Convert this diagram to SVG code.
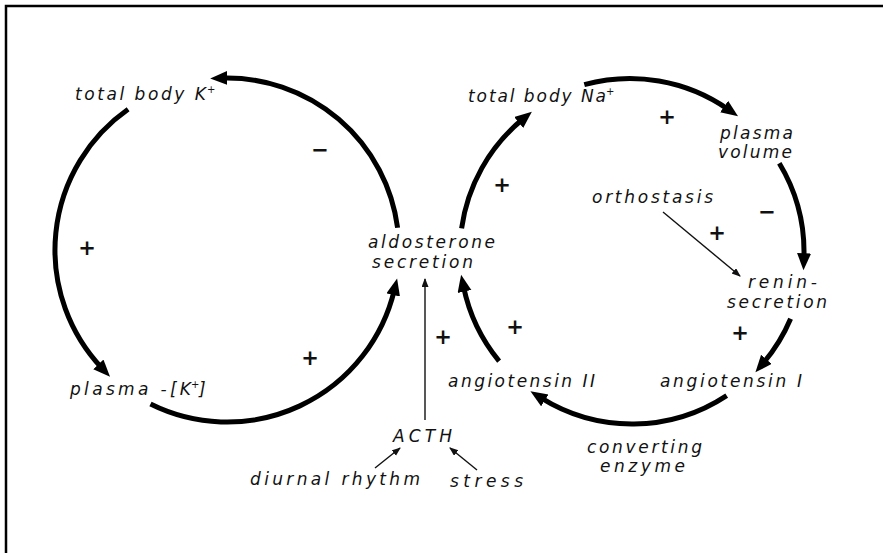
<svg xmlns="http://www.w3.org/2000/svg" width="883" height="553" viewBox="0 0 883 553">
<style>
.t{font-family:"DejaVu Sans","Liberation Sans",sans-serif;font-style:oblique;font-size:17px;fill:#111;}
.sup{font-family:"DejaVu Sans","Liberation Sans",sans-serif;font-style:oblique;font-size:10px;fill:#111;}
.s{font-family:"DejaVu Sans","Liberation Sans",sans-serif;font-size:21px;font-weight:bold;fill:#111;text-anchor:middle;}
.thick{fill:none;stroke:#000;stroke-width:5;}
.thin{fill:none;stroke:#111;stroke-width:1.4;}
</style>
<defs>
<marker id="big" markerUnits="userSpaceOnUse" markerWidth="18" markerHeight="16" refX="5" refY="7" orient="auto">
<path d="M0,0 L17,7 L0,14 z" fill="#000"/>
</marker>
<marker id="small" markerUnits="userSpaceOnUse" markerWidth="10" markerHeight="8" refX="8" refY="3.5" orient="auto">
<path d="M0,0 L9,3.5 L0,7 z" fill="#111"/>
</marker>
</defs>
<rect x="0" y="0" width="883" height="553" fill="#fff"/>
<path d="M6,560 L6,6 L890,6" fill="none" stroke="#000" stroke-width="2.5"/>

<g id="connectors">
<path class="thick" d="M397.6,227.8 A172,172 0 0 0 222.2,78.1" marker-end="url(#big)"/>
<path class="thick" d="M128.1,109.3 A172,172 0 0 0 101.8,368.0" marker-end="url(#big)"/>
<path class="thick" d="M150.5,404.1 A172,172 0 0 0 394.3,290.1" marker-end="url(#big)"/>
<path class="thick" d="M461.6,228.4 A172,172 0 0 1 522.6,119.3" marker-end="url(#big)"/>
<path class="thick" d="M584.3,84.7 A172,172 0 0 1 728.2,109.4" marker-end="url(#big)"/>
<path class="thick" d="M779.3,163.2 A172,172 0 0 1 803.9,258.3" marker-end="url(#big)"/>
<path class="thick" d="M790.6,318.7 A172,172 0 0 1 763.2,363.2" marker-end="url(#big)"/>
<path class="thick" d="M726.7,395.6 A172,172 0 0 1 540.6,397.7" marker-end="url(#big)"/>
<path class="thick" d="M499.1,361.2 A172,172 0 0 1 463.5,286.6" marker-end="url(#big)"/>
<line class="thin" x1="425" y1="420" x2="425" y2="279" marker-end="url(#small)"/>
<line class="thin" x1="663" y1="212" x2="740" y2="276" marker-end="url(#small)"/>
<line class="thin" x1="375" y1="468" x2="400" y2="448" marker-end="url(#small)"/>
<line class="thin" x1="477" y1="470" x2="450" y2="448" marker-end="url(#small)"/>
<text class="s" x="320" y="157">−</text>
<text class="s" x="87" y="255">+</text>
<text class="s" x="310" y="365">+</text>
<text class="s" x="443" y="344">+</text>
<text class="s" x="515" y="334">+</text>
<text class="s" x="502" y="192">+</text>
<text class="s" x="667" y="124">+</text>
<text class="s" x="767" y="219">−</text>
<text class="s" x="717" y="240">+</text>
<text class="s" x="740" y="340">+</text>
</g>

<g id="total-body-k">
<text class="t" x="75" y="100" textLength="131" lengthAdjust="spacing">total body K</text>
<text class="sup" x="207" y="93">+</text>
</g>
<g id="plasma-k">
<text class="t" x="70" y="395" textLength="121" lengthAdjust="spacing">plasma -[K</text>
<text class="sup" x="191" y="388">+</text>
<text class="t" x="199" y="395">]</text>
</g>
<g id="aldosterone">
<text class="t" x="368" y="248" textLength="127" lengthAdjust="spacing">aldosterone</text>
<text class="t" x="372" y="268" textLength="101" lengthAdjust="spacing">secretion</text>
</g>
<g id="total-body-na">
<text class="t" x="468" y="102" textLength="138" lengthAdjust="spacing">total body  Na</text>
<text class="sup" x="606" y="95">+</text>
</g>
<g id="plasma-volume">
<text class="t" x="720" y="139" textLength="73" lengthAdjust="spacing">plasma</text>
<text class="t" x="718" y="158" textLength="74" lengthAdjust="spacing">volume</text>
</g>
<g id="orthostasis">
<text class="t" x="592" y="203" textLength="121" lengthAdjust="spacing">orthostasis</text>
</g>
<g id="renin">
<text class="t" x="748" y="288" textLength="69" lengthAdjust="spacing">renin-</text>
<text class="t" x="727" y="308" textLength="100" lengthAdjust="spacing">secretion</text>
</g>
<g id="angiotensin-1">
<text class="t" x="660" y="387" textLength="142" lengthAdjust="spacing">angiotensin I</text>
</g>
<g id="angiotensin-2">
<text class="t" x="448" y="387" textLength="147" lengthAdjust="spacing">angiotensin II</text>
</g>
<g id="converting-enzyme">
<text class="t" x="587" y="453" textLength="115" lengthAdjust="spacing">converting</text>
<text class="t" x="600" y="472" textLength="85" lengthAdjust="spacing">enzyme</text>
</g>
<g id="acth">
<text class="t" x="393" y="442" textLength="59" lengthAdjust="spacing">ACTH</text>
</g>
<g id="diurnal-rhythm">
<text class="t" x="250" y="485" textLength="170" lengthAdjust="spacing">diurnal rhythm</text>
</g>
<g id="stress">
<text class="t" x="450" y="487" textLength="73" lengthAdjust="spacing">stress</text>
</g>
</svg>
